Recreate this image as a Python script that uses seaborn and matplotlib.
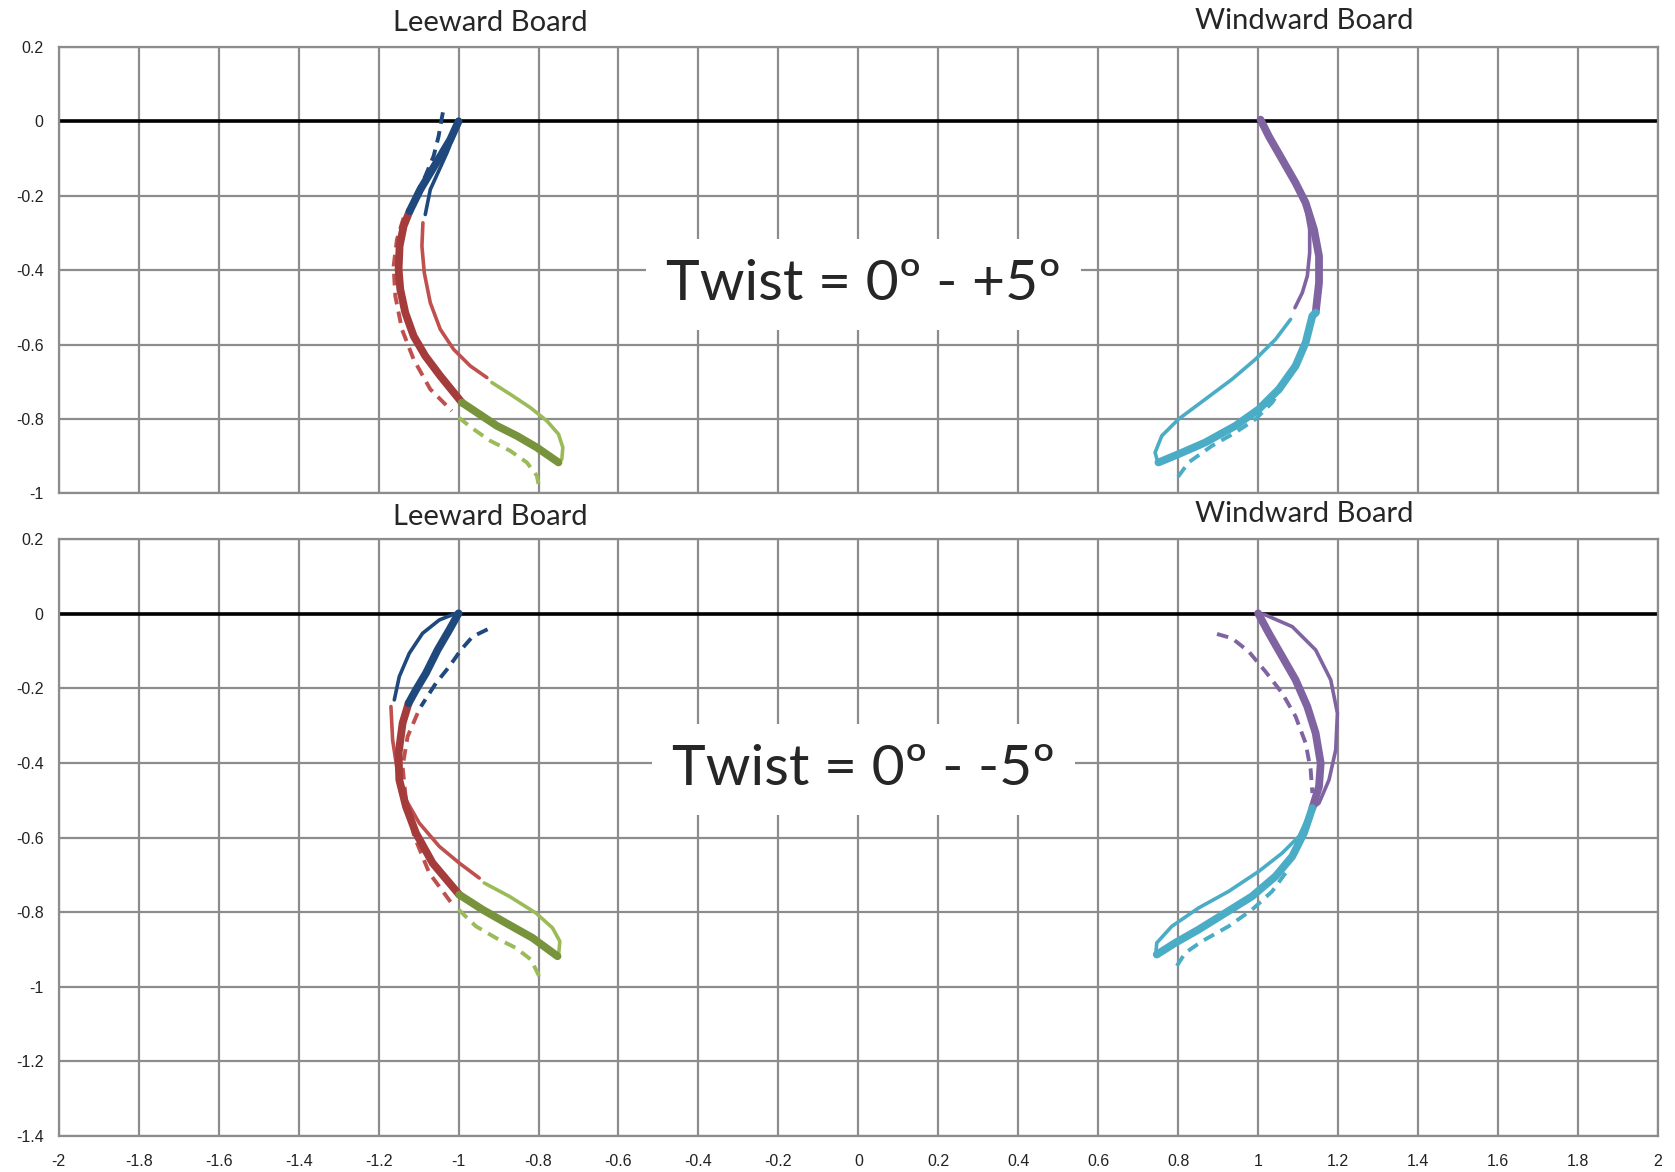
import matplotlib
matplotlib.use("Agg")
import matplotlib.pyplot as plt
import seaborn as sns
import numpy as np

# ---------------- axis / label data ----------------
X_TICKS = [-2, -1.8, -1.6, -1.4, -1.2, -1, -0.8, -0.6, -0.4, -0.2, 0, 0.2, 0.4, 0.6, 0.8, 1, 1.2, 1.4, 1.6, 1.8, 2]
X_TICK_LABELS = ["-2", "-1.8", "-1.6", "-1.4", "-1.2", "-1", "-0.8", "-0.6", "-0.4", "-0.2", "0", "0.2", "0.4", "0.6", "0.8", "1", "1.2", "1.4", "1.6", "1.8", "2"]
TOP_Y_TICKS = [0.2, 0, -0.2, -0.4, -0.6, -0.8, -1]
TOP_Y_LABELS = ["0.2", "0", "-0.2", "-0.4", "-0.6", "-0.8", "-1"]
BOT_Y_TICKS = [0.2, 0, -0.2, -0.4, -0.6, -0.8, -1, -1.2, -1.4]
BOT_Y_LABELS = ["0.2", "0", "-0.2", "-0.4", "-0.6", "-0.8", "-1", "-1.2", "-1.4"]
BOARD_TITLES = ["Leeward Board", "Windward Board"]
TWIST_TOP = "Twist = 0º - +5º"
TWIST_BOT = "Twist = 0º - -5º"

# ---------------- TOP PANEL (twist 0 to +5) ----------------
# Leeward board
T_LB_THICK_X = [-1.0, -1.0208, -1.0458, -1.0708, -1.0958, -1.1225]
T_LB_THICK_Y = [0.0, -0.0492, -0.0939, -0.1386, -0.1834, -0.2415]
T_LB_THIN_X = [-1.0, -1.0125, -1.0292, -1.05, -1.0708, -1.0833]
T_LB_THIN_Y = [0.0, -0.0403, -0.085, -0.1342, -0.1834, -0.2504]
T_LB_DASH_X = [-1.0392, -1.0442, -1.05, -1.0625, -1.0833, -1.1083, -1.125]
T_LB_DASH_Y = [0.0241, -0.0045, -0.0403, -0.0939, -0.1476, -0.2013, -0.2415]

T_LR_THICK_X = [-1.1225, -1.1375, -1.1475, -1.15, -1.1458, -1.1333, -1.1125, -1.0833, -1.0458, -0.9917]
T_LR_THICK_Y = [-0.2415, -0.2818, -0.3354, -0.398, -0.4517, -0.5143, -0.5769, -0.6306, -0.6843, -0.7558]
T_LR_THIN_X = [-1.0892, -1.0917, -1.0858, -1.0708, -1.0458, -1.0125, -0.9708, -0.9292]
T_LR_THIN_Y = [-0.2728, -0.3354, -0.4070, -0.4875, -0.5590, -0.6127, -0.6574, -0.6887]
T_LR_DASH_X = [-1.1375, -1.1542, -1.1625, -1.1583, -1.1417, -1.1125, -1.0708, -1.0167]
T_LR_DASH_Y = [-0.2594, -0.3175, -0.3891, -0.4696, -0.559, -0.6395, -0.72, -0.7782]

T_LG_THICK_X = [-0.9917, -0.9542, -0.9042, -0.8542, -0.8042, -0.75]
T_LG_THICK_Y = [-0.7558, -0.7826, -0.8184, -0.8453, -0.8766, -0.9168]
T_LG_THIN_X = [-0.9167, -0.8708, -0.8208, -0.7792, -0.75, -0.7392, -0.7417, -0.75]
T_LG_THIN_Y = [-0.7021, -0.7335, -0.7692, -0.8050, -0.8408, -0.8766, -0.9079, -0.9168]
T_LG_DASH_X = [-1.0, -0.9625, -0.9208, -0.8708, -0.8292, -0.8042, -0.7975]
T_LG_DASH_Y = [-0.7961, -0.8274, -0.8587, -0.8855, -0.9168, -0.9526, -0.9884]

# Windward board
T_WP_THICK_X = [1.0059, 1.0268, 1.0603, 1.0937, 1.1188, 1.1397, 1.1523, 1.1523, 1.1439]
T_WP_THICK_Y = [0.0045, -0.0403, -0.1029, -0.1655, -0.2191, -0.2907, -0.3623, -0.4338, -0.5143]
T_WP_THIN_X = [1.0059, 1.0310, 1.0645, 1.0979, 1.1188, 1.1289, 1.1289, 1.1230, 1.1105, 1.0921]
T_WP_THIN_Y = [0.0045, -0.0492, -0.1118, -0.1744, -0.2281, -0.2907, -0.3533, -0.4159, -0.4606, -0.5009]

T_WC_THICK_X = [1.1439, 1.1356, 1.1188, 1.0937, 1.0519, 1.0017, 0.9431, 0.8678, 0.8008, 0.7506]
T_WC_THICK_Y = [-0.5143, -0.5233, -0.5948, -0.6574, -0.72, -0.7737, -0.8184, -0.8631, -0.8945, -0.9168]
T_WC_THIN_X = [1.0812, 1.0435, 0.9933, 0.9347, 0.8678, 0.8008, 0.759, 0.7423, 0.749]
T_WC_THIN_Y = [-0.5322, -0.5859, -0.6395, -0.6932, -0.7469, -0.8005, -0.8453, -0.89, -0.9168]
T_WC_DASH_X = [1.0686, 1.0351, 0.9933, 0.9431, 0.8845, 0.8259, 0.7925]
T_WC_DASH_Y = [-0.7021, -0.7558, -0.8005, -0.8363, -0.8721, -0.9168, -0.966]

# ---------------- BOTTOM PANEL (twist 0 to -5) ----------------
B_LB_THICK_X = [-1.0, -1.0233, -1.0525, -1.0817, -1.1067, -1.125]
B_LB_THICK_Y = [0.0018, -0.0429, -0.0965, -0.1591, -0.2038, -0.2395]
B_LB_THIN_X = [-1.0067, -1.0483, -1.09, -1.1233, -1.1483, -1.1608]
B_LB_THIN_Y = [0.0018, -0.0161, -0.0518, -0.1055, -0.168, -0.2306]
B_LB_DASH_X = [-0.9275, -0.965, -0.9942, -1.0233, -1.0567, -1.0942]
B_LB_DASH_Y = [-0.0411, -0.0608, -0.0965, -0.1412, -0.1859, -0.2484]

B_LR_THICK_X = [-1.125, -1.14, -1.15, -1.1483, -1.1317, -1.1067, -1.065, -0.9983]
B_LR_THICK_Y = [-0.2395, -0.2931, -0.3735, -0.445, -0.5165, -0.588, -0.6685, -0.7534]
B_LR_THIN_X = [-1.1692, -1.165, -1.1525, -1.1317, -1.0983, -1.0483, -0.9983, -0.9483]
B_LR_THIN_Y = [-0.2484, -0.3378, -0.4272, -0.4987, -0.5612, -0.6238, -0.6685, -0.7087]
B_LR_DASH_X = [-1.1025, -1.1275, -1.14, -1.1317, -1.1108, -1.0733, -1.015]
B_LR_DASH_Y = [-0.2663, -0.3289, -0.4093, -0.4987, -0.597, -0.6953, -0.7802]

B_LG_THICK_X = [-0.9983, -0.94, -0.8817, -0.815, -0.7525]
B_LG_THICK_Y = [-0.7534, -0.7936, -0.8293, -0.8695, -0.9187]
B_LG_THIN_X = [-0.9358, -0.8733, -0.8067, -0.765, -0.7467, -0.75]
B_LG_THIN_Y = [-0.7221, -0.7578, -0.8025, -0.8427, -0.8785, -0.9187]
B_LG_DASH_X = [-1.0, -0.9567, -0.9067, -0.8567, -0.8192, -0.7942]
B_LG_DASH_Y = [-0.7936, -0.8382, -0.8695, -0.8963, -0.9276, -0.9812]

B_WP_THICK_X = [1.0, 1.0268, 1.0603, 1.0937, 1.123, 1.1439, 1.1565, 1.1523, 1.1356]
B_WP_THICK_Y = [0.0018, -0.0518, -0.1144, -0.1769, -0.2484, -0.3199, -0.4004, -0.4629, -0.521]
B_WP_THIN_X = [1.0, 1.0184, 1.0854, 1.1439, 1.1816, 1.1983, 1.1941, 1.1774, 1.1523, 1.1356]
B_WP_THIN_Y = [0.0018, -0.0027, -0.034, -0.0965, -0.1769, -0.2663, -0.3646, -0.445, -0.5076, -0.521]
B_WP_DASH_X = [0.8971, 0.9347, 0.9766, 1.0184, 1.0603, 1.0937, 1.1188, 1.1314, 1.1356]
B_WP_DASH_Y = [-0.0536, -0.0652, -0.101, -0.1546, -0.2127, -0.2752, -0.3467, -0.4182, -0.4808]

B_WC_THICK_X = [1.1356, 1.1146, 1.0854, 1.0435, 0.9849, 0.918, 0.851, 0.7925, 0.7464]
B_WC_THICK_Y = [-0.521, -0.588, -0.6506, -0.7042, -0.7578, -0.8025, -0.8472, -0.8829, -0.9142]
B_WC_THIN_X = [1.1356, 1.1021, 1.0603, 1.0017, 0.9264, 0.851, 0.7841, 0.7464, 0.7439]
B_WC_THIN_Y = [-0.521, -0.597, -0.6416, -0.6908, -0.7444, -0.7891, -0.8383, -0.8829, -0.9142]
B_WC_DASH_X = [1.0686, 1.0351, 0.9849, 0.9264, 0.8594, 0.8176, 0.7908]
B_WC_DASH_Y = [-0.6953, -0.7444, -0.7936, -0.8382, -0.8785, -0.9097, -0.9544]

# ---------------- styling ----------------
C_BLUE = "#1F497D"
C_RED_D = "#A33C3B"
C_RED = "#C0504D"
C_GREEN_D = "#77933C"
C_GREEN = "#9BBB59"
C_PURPLE = "#8064A2"
C_CYAN = "#4BACC6"
GRID_C = "#8c8c8c"

THICK = dict(lw=5.6, linestyle="-")
THIN = dict(lw=2.6, linestyle="-")
DASH = dict(lw=2.8, linestyle=(0, (3.0, 1.9)))

top_series = [
    (T_LR_THIN_X, T_LR_THIN_Y, C_RED, THIN),
    (T_LR_DASH_X, T_LR_DASH_Y, C_RED, DASH),
    (T_LR_THICK_X, T_LR_THICK_Y, C_RED_D, THICK),
    (T_LG_THIN_X, T_LG_THIN_Y, C_GREEN, THIN),
    (T_LG_DASH_X, T_LG_DASH_Y, C_GREEN, DASH),
    (T_LG_THICK_X, T_LG_THICK_Y, C_GREEN_D, THICK),
    (T_LB_THIN_X, T_LB_THIN_Y, C_BLUE, THIN),
    (T_LB_DASH_X, T_LB_DASH_Y, C_BLUE, DASH),
    (T_LB_THICK_X, T_LB_THICK_Y, C_BLUE, THICK),
    (T_WP_THIN_X, T_WP_THIN_Y, C_PURPLE, THIN),
    (T_WP_THICK_X, T_WP_THICK_Y, C_PURPLE, THICK),
    (T_WC_THIN_X, T_WC_THIN_Y, C_CYAN, THIN),
    (T_WC_DASH_X, T_WC_DASH_Y, C_CYAN, DASH),
    (T_WC_THICK_X, T_WC_THICK_Y, C_CYAN, THICK),
]
bot_series = [
    (B_LR_THIN_X, B_LR_THIN_Y, C_RED, THIN),
    (B_LR_DASH_X, B_LR_DASH_Y, C_RED, DASH),
    (B_LR_THICK_X, B_LR_THICK_Y, C_RED_D, THICK),
    (B_LG_THIN_X, B_LG_THIN_Y, C_GREEN, THIN),
    (B_LG_DASH_X, B_LG_DASH_Y, C_GREEN, DASH),
    (B_LG_THICK_X, B_LG_THICK_Y, C_GREEN_D, THICK),
    (B_LB_THIN_X, B_LB_THIN_Y, C_BLUE, THIN),
    (B_LB_DASH_X, B_LB_DASH_Y, C_BLUE, DASH),
    (B_LB_THICK_X, B_LB_THICK_Y, C_BLUE, THICK),
    (B_WP_THIN_X, B_WP_THIN_Y, C_PURPLE, THIN),
    (B_WP_DASH_X, B_WP_DASH_Y, C_PURPLE, DASH),
    (B_WP_THICK_X, B_WP_THICK_Y, C_PURPLE, THICK),
    (B_WC_THIN_X, B_WC_THIN_Y, C_CYAN, THIN),
    (B_WC_DASH_X, B_WC_DASH_Y, C_CYAN, DASH),
    (B_WC_THICK_X, B_WC_THICK_Y, C_CYAN, THICK),
]

sns.set_style("white")
plt.rcParams["font.family"] = ["Liberation Sans", "DejaVu Sans"]

fig = plt.figure(figsize=(16.75, 11.72), dpi=100)
ax_top = fig.add_axes([0.0351, 0.579, 0.9547, 0.381])
ax_bot = fig.add_axes([0.0351, 0.0311, 0.9547, 0.5086])

TITLE_FONT = ["Lato", "DejaVu Sans"]


def style_axes(ax, yticks, ylabels, show_x_labels):
    ax.set_xlim(-2, 2)
    ax.set_ylim(min(yticks), max(yticks))
    ax.set_xticks(X_TICKS)
    ax.set_yticks(yticks)
    ax.set_yticklabels(ylabels)
    if show_x_labels:
        ax.set_xticklabels(X_TICK_LABELS)
    else:
        ax.set_xticklabels([])
    ax.grid(True, color=GRID_C, lw=1.6, zorder=0)
    ax.set_axisbelow(True)
    for s in ax.spines.values():
        s.set_color(GRID_C)
        s.set_linewidth(1.6)
    ax.tick_params(axis="both", direction="out", length=5, width=1.6, color=GRID_C,
                   labelsize=11.5, labelcolor="#222222", pad=6)
    ax.tick_params(axis="x", pad=8)
    ax.axhline(0, color="black", lw=2.6, zorder=2)
    ax.set_xlabel("")
    ax.set_ylabel("")


def draw(ax, series):
    for xs, ys, c, st in series:
        sns.lineplot(x=xs, y=ys, ax=ax, sort=False, estimator=None, color=c,
                     lw=st["lw"], linestyle=st["linestyle"],
                     solid_joinstyle="round", solid_capstyle="round", zorder=3)


draw(ax_top, top_series)
draw(ax_bot, bot_series)
style_axes(ax_top, TOP_Y_TICKS, TOP_Y_LABELS, False)
style_axes(ax_bot, BOT_Y_TICKS, BOT_Y_LABELS, True)

# board titles
TFS = 21
ax_top.text(-0.92, 0.243, BOARD_TITLES[0], ha="center", va="baseline", fontsize=TFS,
            family=TITLE_FONT, clip_on=False)
ax_top.text(1.115, 0.249, BOARD_TITLES[1], ha="center", va="baseline", fontsize=TFS,
            family=TITLE_FONT, clip_on=False)
ax_bot.text(-0.92, 0.239, BOARD_TITLES[0], ha="center", va="baseline", fontsize=TFS,
            family=TITLE_FONT, clip_on=False)
ax_bot.text(1.115, 0.248, BOARD_TITLES[1], ha="center", va="baseline", fontsize=TFS,
            family=TITLE_FONT, clip_on=False)

# twist labels
box = dict(boxstyle="square,pad=0.35", facecolor="white", edgecolor="none")
ax_top.text(0.012, -0.481, TWIST_TOP, ha="center", va="baseline", fontsize=41,
            family=TITLE_FONT, bbox=box, zorder=4)
ax_bot.text(0.013, -0.459, TWIST_BOT, ha="center", va="baseline", fontsize=41,
            family=TITLE_FONT, bbox=box, zorder=4)

fig.savefig("out.png", dpi=100)
